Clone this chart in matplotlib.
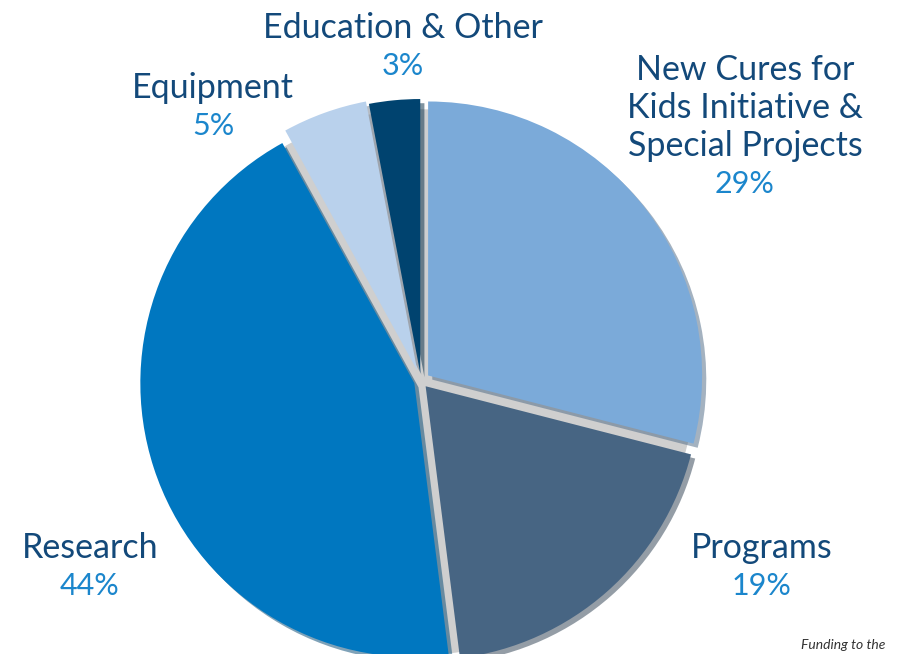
import matplotlib
matplotlib.use("Agg")
from matplotlib import pyplot as plt
from matplotlib.patches import Circle

# slice data, clockwise from 12 o'clock
names = ["New Cures for\nKids Initiative &\nSpecial Projects", "Programs", "Research", "Equipment", "Education & Other"]
shares = [29, 19, 44, 5, 3]
pct_labels = ["29%", "19%", "44%", "5%", "3%"]
colors = ["#7BAAD9", "#476583", "#0077C0", "#B9D1EC", "#00436F"]

W, H = 898, 654
fig = plt.figure(figsize=(W / 100, H / 100), dpi=100)
ax = fig.add_axes([0, 0, 1, 1])

# explode is in data units here (pixels)
explode = [9, 7, 7, 11, 8]
cx, cy, r = 421, H - 381, 274

# grey backing so the gaps between slices look shaded like the original
ax.add_patch(Circle((cx + 1, cy - 1), r - 2, color="#CFCFCF", zorder=0))

ax.pie(shares, colors=colors, explode=explode, startangle=90, counterclock=False,
       center=(cx, cy), radius=r, frame=True,
       shadow={"ox": 3, "oy": -3, "shade": 0.4, "alpha": 0.5},
       wedgeprops={"linewidth": 0})
ax.set_xlim(0, W)
ax.set_ylim(0, H)
ax.axis("off")

name_color = "#13497A"
pct_color = "#1B86CC"
font = "Lato"

# label anchor points (pixel coords, top-left origin)
label_pos = [(745, 52), (762, 530), (90, 530), (213, 70), (403, 10)]
line_h = 38
for name, pct, (x, y) in zip(names, pct_labels, label_pos):
    lines = name.split("\n")
    for i, ln in enumerate(lines):
        ax.text(x, H - (y + 18 + i * line_h), ln, ha="center", va="center",
                fontsize=24.5, color=name_color, family=font)
    ax.text(x, H - (y + 18 + len(lines) * line_h), pct, ha="center", va="center",
            fontsize=22, color=pct_color, family=font)

ax.text(801, H - 645, "Funding to the", ha="left", va="center", fontsize=10,
        style="italic", color="#333333", family=font)

fig.savefig("out.png", dpi=100)
